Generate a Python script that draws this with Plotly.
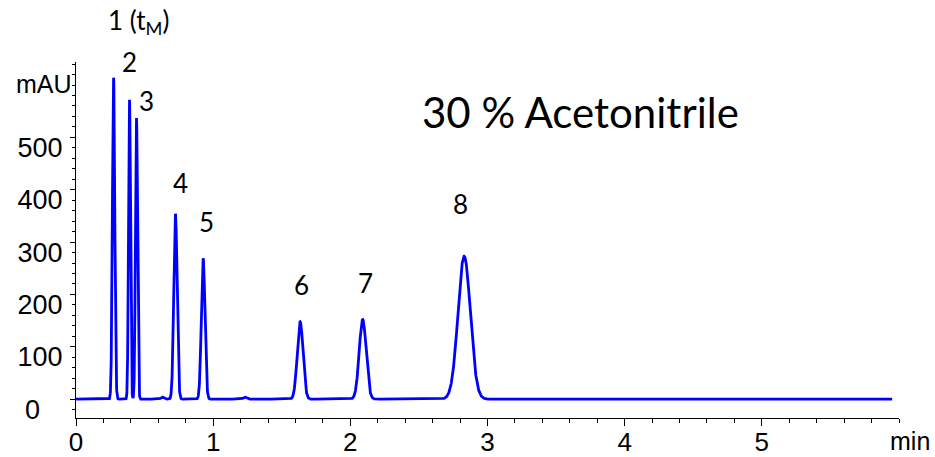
import numpy as np
import plotly.graph_objects as go

# Peak table (retention time in min, height in mAU, sigma in min)
peak_times = [0.274, 0.390, 0.441, 0.630, 0.725, 0.927, 1.230, 1.634, 2.090, 2.830]
peak_heights = [614, 572, 537, 4, 354, 269, 4, 148, 152, 273]
peak_sigmas = [0.0085, 0.0070, 0.0075, 0.010, 0.012, 0.013, 0.012, 0.021, 0.025, 0.045]

# Peak labels (text, x in min, y in mAU)
label_texts = ["1 (t<sub>M</sub>)", "2", "3", "4", "5", "6", "7", "8"]
label_x = [0.454, 0.390, 0.512, 0.760, 0.949, 1.641, 2.107, 2.806]
label_y = [721, 644, 570, 413, 338, 218, 222, 373]

# Axis ticks
x_ticks = [0, 1, 2, 3, 4, 5]
y_ticks = [0, 100, 200, 300, 400, 500]
y_ticktext = ["0\u00a0\u00a0\u00a0", "100", "200", "300", "400", "500"]

Y_MIN, Y_MAX = -36, 644

# Detector trace: sum of the peaks on a flat baseline
t = np.arange(0.0, 5.951, 0.001)
signal = np.zeros_like(t)
for rt, h, s in zip(peak_times, peak_heights, peak_sigmas):
    signal += h * np.exp(-0.5 * ((t - rt) / s) ** 2)

fig = go.Figure()
fig.add_trace(go.Scatter(
    x=t, y=signal, mode="lines",
    line=dict(color="#0000ff", width=2.8),
    hoverinfo="skip", showlegend=False,
))

# labels above the axis range are pinned to the top edge and shifted up
PX_PER_UNIT = 356 / (Y_MAX - Y_MIN)
label_font = dict(family="Lato, Open Sans, sans-serif", size=26, color="black")
for txt, lx, ly in zip(label_texts, label_x, label_y):
    shift = max(0.0, ly - Y_MAX) * PX_PER_UNIT
    fig.add_annotation(x=lx, y=min(ly, Y_MAX), xref="x", yref="y", text=txt,
                       yshift=shift, showarrow=False, font=label_font)

fig.add_annotation(x=3.68, y=549, xref="x", yref="y", text="30 % Acetonitrile",
                   showarrow=False,
                   font=dict(family="Lato, Open Sans, sans-serif", size=42, color="black"))

y_font = dict(family="Liberation Sans, Arial, sans-serif", size=27, color="black")
x_font = dict(family="Liberation Sans, Arial, sans-serif", size=26, color="black")
fig.add_annotation(x=0, y=602, xref="paper", yref="y", text="mAU", xanchor="right",
                   xshift=-2, showarrow=False,
                   font=dict(family="Liberation Sans, Arial, sans-serif", size=25, color="black"))
fig.add_annotation(x=1.0, y=0, xref="paper", yref="paper", text="min", xanchor="center",
                   yanchor="top", xshift=11, yshift=-7, showarrow=False,
                   font=dict(family="Liberation Sans, Arial, sans-serif", size=25, color="black"))

fig.update_xaxes(
    range=[0, 6.0], tickvals=x_ticks, ticks="outside", ticklen=7, tickwidth=1,
    tickcolor="black", showline=True, linecolor="black", linewidth=1,
    showgrid=False, zeroline=False, tickfont=x_font, automargin=False,
    ticklabelstandoff=-6,
    minor=dict(dtick=0.2, ticks="outside", ticklen=4, tickcolor="black", showgrid=False),
)
fig.update_yaxes(
    range=[Y_MIN, Y_MAX], tickvals=y_ticks, ticktext=y_ticktext, ticks="outside",
    ticklen=5, tickwidth=1, tickcolor="black", showline=True, linecolor="black",
    linewidth=1, showgrid=False, zeroline=False, tickfont=y_font, automargin=False,
    ticklabelshift=10, ticklabelstandoff=2,
    minor=dict(dtick=20, ticks="outside", ticklen=3, tickcolor="black", showgrid=False),
)

fig.update_layout(
    width=935, height=457,
    margin=dict(l=76, r=36, t=62, b=39),
    paper_bgcolor="white", plot_bgcolor="white",
)

fig.write_html("out.html")
